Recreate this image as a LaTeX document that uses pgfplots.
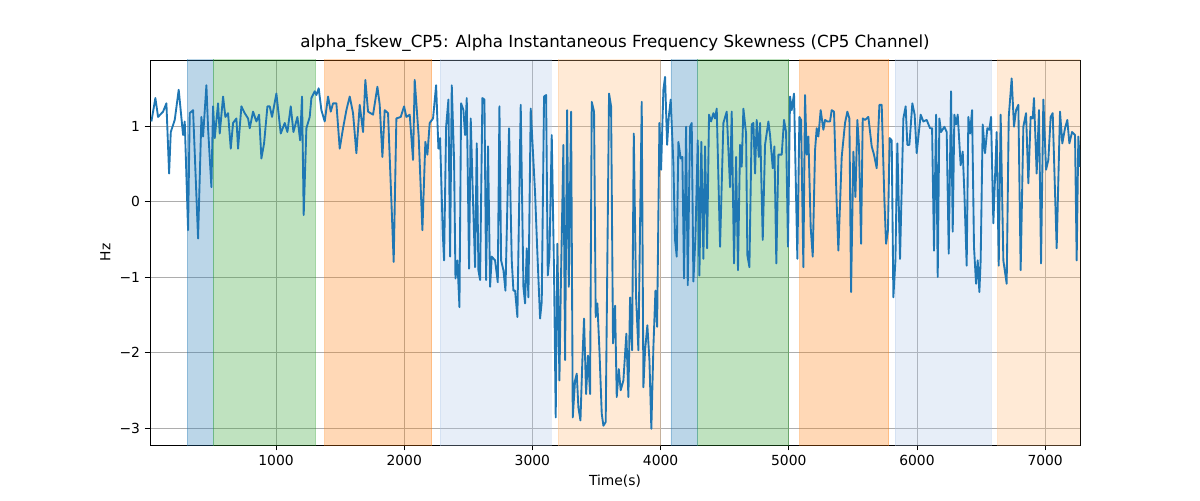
\documentclass[border=0pt]{standalone}
\usepackage{pgfplots}
\pgfplotsset{compat=1.18}
\usepackage{fontspec}
\setmainfont{DejaVu Sans}
\definecolor{tb}{HTML}{1F77B4}
\definecolor{tg}{HTML}{2CA02C}
\definecolor{to}{HTML}{FF7F0E}
\definecolor{tlb}{HTML}{AEC7E8}
\definecolor{tlo}{HTML}{FFBB78}
\begin{document}
\begin{tikzpicture}
\begin{axis}[scale only axis, width=697.5pt, height=288.75pt,
  xmin=17, xmax=7272, ymin=-3.225, ymax=1.874,
  xtick={1000,2000,3000,4000,5000,6000,7000}, ytick={-3,-2,-1,0,1},
  yticklabels={−3,−2,−1,0,1},
  grid=major, grid style={color=black!32, line width=0.6pt},
  axis line style={line width=0.6pt},
  tick style={black, line width=0.6pt}, tick align=outside, major tick length=4pt,
  xtick pos=bottom, ytick pos=left,
  /pgf/number format/assume math mode=true,
  /pgf/number format/1000 sep={},
  ticklabel style={font=\fontsize{10.4}{12}\selectfont},
  xlabel={Time(s)}, ylabel={Hz},
  label style={font=\fontsize{10.4}{12}\selectfont},
  title={alpha\_fskew\_CP5: Alpha Instantaneous Frequency Skewness (CP5 Channel)},
  title style={font=\fontsize{12.5}{14}\selectfont, yshift=-3pt}]
\addplot[fill=tb, fill opacity=0.3, draw=tb, draw opacity=0.3] coordinates {(307,-4) (510,-4) (510,3) (307,3)} \closedcycle;
\addplot[fill=tg, fill opacity=0.3, draw=tg, draw opacity=0.3] coordinates {(510,-4) (1310,-4) (1310,3) (510,3)} \closedcycle;
\addplot[fill=to, fill opacity=0.3, draw=to, draw opacity=0.3] coordinates {(1380,-4) (2215,-4) (2215,3) (1380,3)} \closedcycle;
\addplot[fill=tlb, fill opacity=0.3, draw=tlb, draw opacity=0.3] coordinates {(2280,-4) (3145,-4) (3145,3) (2280,3)} \closedcycle;
\addplot[fill=tlo, fill opacity=0.3, draw=tlo, draw opacity=0.3] coordinates {(3200,-4) (3995,-4) (3995,3) (3200,3)} \closedcycle;
\addplot[fill=tb, fill opacity=0.3, draw=tb, draw opacity=0.3] coordinates {(4080,-4) (4290,-4) (4290,3) (4080,3)} \closedcycle;
\addplot[fill=tg, fill opacity=0.3, draw=tg, draw opacity=0.3] coordinates {(4290,-4) (5000,-4) (5000,3) (4290,3)} \closedcycle;
\addplot[fill=to, fill opacity=0.3, draw=to, draw opacity=0.3] coordinates {(5085,-4) (5780,-4) (5780,3) (5085,3)} \closedcycle;
\addplot[fill=tlb, fill opacity=0.3, draw=tlb, draw opacity=0.3] coordinates {(5830,-4) (6580,-4) (6580,3) (5830,3)} \closedcycle;
\addplot[fill=tlo, fill opacity=0.3, draw=tlo, draw opacity=0.3] coordinates {(6630,-4) (7272,-4) (7272,3) (6630,3)} \closedcycle;
\addplot[tb, line width=1.4pt, line join=round] coordinates {
(28,1.06)(59,1.37)(80,1.12)(119,1.19)(145,1.3)(166,0.37)(179,0.92)(210,1.08)(241,1.48)(275,0.88)(288,1.06)(314,-0.38)(327,1.17)(353,1.21)(392,-0.49)(418,1.12)(431,0.86)(457,1.54)(470,0.97)(496,0.19)(509,1.26)(522,0.84)(548,1.3)(561,0.9)(587,1.39)(605,1.12)(626,1.17)(647,0.7)(665,1.04)(691,1.1)(704,0.7)(730,1.26)(756,1.17)(782,1.1)(795,0.97)(821,1.19)(847,1.06)(868,1.15)(886,0.57)(907,0.77)(933,1.26)(951,1.26)(969,1.12)(1003,1.43)(1037,0.9)(1068,1.04)(1089,0.92)(1115,1.26)(1136,0.92)(1167,1.12)(1188,0.81)(1203,1.39)(1216,-0.18)(1237,0.97)(1263,1.12)(1276,1.37)(1302,1.46)(1315,1.41)(1333,1.5)(1354,1.21)(1380,1.06)(1406,1.39)(1427,1.19)(1445,1.3)(1471,1.3)(1497,0.7)(1523,0.97)(1549,1.21)(1575,1.39)(1601,1.17)(1627,0.64)(1653,1.28)(1679,0.92)(1697,1.61)(1718,1.19)(1757,1.15)(1791,1.52)(1809,1.28)(1830,0.59)(1848,1.21)(1874,1.17)(1918,-0.8)(1939,1.1)(1973,1.12)(1999,1.26)(2017,1.12)(2043,1.15)(2069,0.55)(2082,1.61)(2113,0.86)(2142,-0.38)(2165,0.79)(2181,0.62)(2199,1.04)(2225,1.1)
(2249,1.54)(2267,0.7)(2280,0.84)(2301,-0.42)(2311,-0.78)(2327,0.99)(2345,1.35)(2358,-0.73)(2371,1.54)(2389,0.55)(2400,-1.02)(2415,-0.78)(2431,-1.4)(2444,1.3)(2462,1.21)(2475,0.88)(2488,1.37)(2506,-0.89)(2519,1.1)(2535,0.11)(2553,-0.87)(2566,0.77)(2579,-0.91)(2592,-1.04)(2610,1.37)(2626,1.35)(2639,-1.04)(2654,0.73)(2670,-1.13)(2683,-0.73)(2709,-0.78)(2730,-1.07)(2743,1.26)(2756,-0.78)(2774,-0.91)(2790,-1.18)(2818,0.97)(2839,-0.78)(2852,-1.18)(2865,-1.18)(2883,-1.53)(2909,1.28)(2930,-1.13)(2943,-1.35)(2956,-0.62)(2969,-1.27)(2987,1.23)(3021,0.11)(3039,-0.69)(3060,-1.55)(3073,-1.33)(3091,1.39)(3107,1.41)(3120,-0.98)(3133,-0.73)(3151,0.88)(3169,-0.95)(3182,-2.86)(3195,-0.56)(3211,-2.37)(3221,-1.22)(3242,0.75)(3255,-2.1)(3271,1.21)(3284,-1.13)(3302,1.19)(3315,-2.86)(3333,-2.37)(3346,-2.28)(3359,-2.73)(3375,-2.9)(3390,-2.1)(3403,-1.55)(3419,-2.55)(3434,-2.04)(3450,-2.55)(3463,1.32)(3481,1.19)(3494,-1.53)(3507,-1.35)(3523,-1.97)(3541,-2.81)(3554,-2.97)(3572,-2.92)(3598,1.43)(3614,1.26)(3629,-1.88)(3645,-1.38)(3658,-2.59)(3674,-2.22)(3689,-2.5)(3710,-2.37)(3733,-1.75)(3749,-2.59)(3762,-1.27)(3778,-1.97)(3791,0.9)(3809,-1.27)(3827,-1.97)(3853,1.32)(3866,-2.46)(3879,-1.97)(3897,-1.64)(3913,-2.1)(3928,-3.01)(3944,-1.93)(3960,-1.18)(3973,-1.66)(3991,1.04)(4004,0.42)(4022,1.48)(4035,1.65)(4051,0.75)(4064,1.12)(4079,1.35)(4100,0.5)(4113,-0.51)(4126,-0.73)(4139,0.79)
(4157,0.57)(4170,0.59)(4183,-1.02)(4199,0.99)(4212,-1.11)(4230,0.99)(4243,1.04)(4256,-1.06)(4272,-0.47)(4290,0.81)(4303,-0.98)(4318,0.79)(4334,-0.76)(4347,0.73)(4363,-0.62)(4378,1.15)(4394,1.06)(4412,1.17)(4425,1.1)(4438,1.23)(4464,-0.6)(4490,1.04)(4516,1.19)(4542,0.19)(4555,1.19)(4573,-0.82)(4589,0.59)(4604,-0.91)(4620,0.75)(4633,0.46)(4646,1.23)(4667,0.9)(4677,-0.71)(4693,-0.87)(4711,1.02)(4724,1.04)(4737,0.37)(4750,1.08)(4766,0.59)(4776,1.04)(4797,-0.51)(4815,0.75)(4841,1.06)(4854,0.88)(4875,0.44)(4888,0.73)(4903,-0.82)(4919,0.62)(4945,0.62)(4963,1.08)(4979,0.92)(4994,-0.6)(5010,1.39)(5023,1.21)(5041,1.43)(5067,-0.76)(5083,1.12)(5096,1.08)(5114,-0.87)(5127,1.41)(5140,0.62)(5153,0.86)(5171,-0.34)(5187,-0.73)(5205,0.68)(5218,0.97)(5231,0.86)(5249,1.21)(5270,0.95)(5283,1.08)(5301,1.06)(5322,1.06)(5335,1.21)(5353,1.19)(5374,-0.03)(5387,-0.65)(5413,0.59)(5439,1.04)(5457,1.19)(5473,1.1)(5486,-1.2)(5504,0.66)(5520,0.06)(5535,1.08)(5548,0.73)(5564,-0.56)(5577,1.1)(5595,1.08)(5621,1.12)(5647,0.73)(5665,0.62)(5686,0.44)(5707,1.28)(5725,1.28)(5746,0.02)(5759,-0.56)(5774,-0.38)(5787,0.84)(5803,0.81)(5816,-1.27)(5832,-0.78)(5847,0.77)(5868,-0.76)(5894,1.1)(5912,1.26)(5925,0.75)(5941,0.75)(5964,1.3)(5982,1.15)(5998,0.64)(6029,1.15)(6050,1.06)(6076,1.08)(6102,0.97)(6118,0.97)(6133,-0.65)(6149,1.15)(6162,-1.0)(6175,1.1)(6188,0.92)(6214,0.99)(6232,0.92)(6248,-0.69)(6266,1.46)(6279,-0.4)(6292,1.15)(6305,1.02)(6318,1.15)(6341,0.48)(6357,0.66)(6370,0.11)(6388,-0.85)(6401,1.12)(6414,0.9)(6430,1.21)(6445,-0.6)(6461,-1.09)(6474,-0.78)(6487,-1.2)(6497,-0.78)(6513,1.02)(6531,0.64)(6549,0.97)(6565,0.95)(6578,1.12)(6596,-0.29)(6622,0.92)(6638,-0.85)(6653,1.15)(6674,-0.78)(6700,-1.09)(6716,1.12)(6739,1.63)(6757,0.99)(6773,1.21)(6791,1.28)(6809,-0.91)(6830,0.99)(6851,1.17)(6869,0.24)(6887,1.12)(6903,1.1)(6913,1.37)(6934,0.37)(6952,1.21)(6968,-0.82)(6986,1.35)(7007,0.42)(7025,0.55)(7043,1.12)(7059,1.17)(7090,-0.62)(7116,1.19)(7134,0.77)(7155,0.97)(7173,1.08)(7189,0.77)(7210,0.92)(7233,0.88)(7246,-0.78)(7259,0.86)(7272,0.46)
};
\end{axis}
\path ([xshift=-112.5pt,yshift=-41.25pt]current axis.south west) rectangle ([xshift=90pt,yshift=45pt]current axis.north east);
\end{tikzpicture}
\end{document}
